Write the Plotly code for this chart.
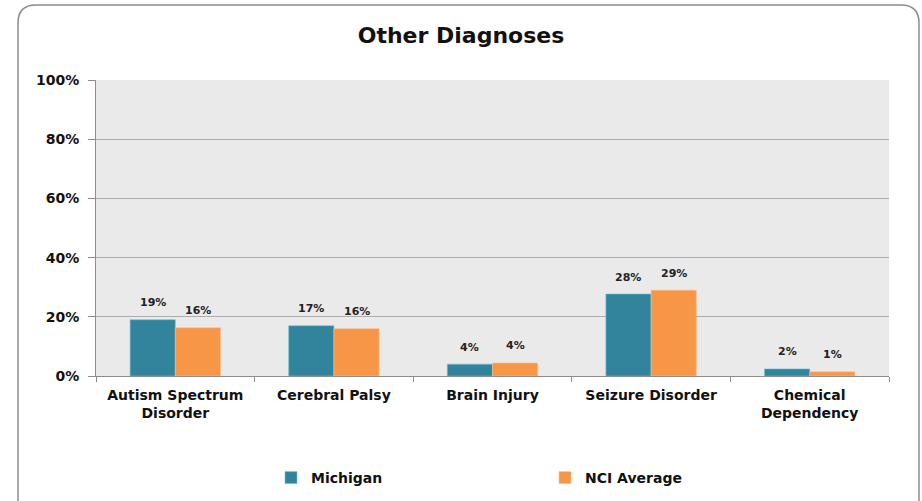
import plotly.graph_objects as go

categories = ["Autism Spectrum<br>Disorder", "Cerebral Palsy", "Brain Injury",
              "Seizure Disorder", "Chemical<br>Dependency"]
michigan = [0.19, 0.17, 0.04, 0.277, 0.024]
nci_average = [0.163, 0.16, 0.044, 0.29, 0.014]

W, H = 922, 501
ML, MR, MT, MB = 96, 33, 80, 125
PW, PH = W - ML - MR, H - MT - MB
BARGAP = 0.43

def px_to_paper(x, y):
    return (x - ML) / PW, (H - MB - y) / PH

# rounded frame around the whole chart
def frame_path(x0, y0, x1, y1, r):
    def p(x, y):
        a, b = px_to_paper(x, y)
        return f"{a:.5f},{b:.5f}"
    return (f"M {p(x0, y0 + r)} Q {p(x0, y0)} {p(x0 + r, y0)} "
            f"L {p(x1 - r, y0)} Q {p(x1, y0)} {p(x1, y0 + r)} "
            f"L {p(x1, y1 - r)} Q {p(x1, y1)} {p(x1 - r, y1)} "
            f"L {p(x0 + r, y1)} Q {p(x0, y1)} {p(x0, y1 - r)} Z")

font_fam = "'DejaVu Sans', Verdana, sans-serif"
label_font = dict(size=11, color="#222222", family=font_fam)

fig = go.Figure()
fig.add_trace(go.Bar(
    name="<b>Michigan</b>", x=categories, y=michigan,
    marker=dict(color="#31849B", line=dict(width=0.6, color="#6FC3D8")),
))
fig.add_trace(go.Bar(
    name="<b>NCI Average</b>", x=categories, y=nci_average,
    marker=dict(color="#F79646", line=dict(width=0.6, color="#FBC08F")),
))

# value labels above each bar
bar_off = PW / len(categories) * (1 - BARGAP) / 4
annotations = []
for series, shift in ((michigan, -bar_off), (nci_average, bar_off)):
    for cat, v in zip(categories, series):
        annotations.append(dict(
            x=cat, y=v, xref="x", yref="y", text=f"<b>{v:.0%}</b>",
            showarrow=False, xshift=shift, yshift=17, yanchor="middle",
            font=label_font,
        ))

fig.update_layout(
    width=W, height=H,
    margin=dict(l=ML, r=MR, t=MT, b=MB, autoexpand=False),
    paper_bgcolor="white",
    plot_bgcolor="#EAEAEA",
    barmode="group",
    bargap=BARGAP,
    bargroupgap=0,
    font=dict(family=font_fam, color="#111111"),
    title=dict(text="<b>Other Diagnoses</b>", x=0.5, xanchor="center",
               y=1 - 35 / H, yanchor="middle",
               font=dict(size=22, color="#111111", family=font_fam)),
    legend=dict(orientation="h", x=px_to_paper(271, 0)[0], xanchor="left",
                y=px_to_paper(0, 478)[1], yanchor="middle",
                entrywidth=229, entrywidthmode="pixels",
                bgcolor="rgba(0,0,0,0)",
                font=dict(size=14, color="#111111", family=font_fam),
                itemwidth=30, traceorder="normal"),
    annotations=annotations,
    shapes=[dict(type="path", xref="paper", yref="paper",
                 path=frame_path(18, 5, 919, 520, 18),
                 line=dict(color="#8C8C8C", width=1.5), fillcolor="rgba(0,0,0,0)",
                 layer="below")],
)

fig.update_yaxes(
    range=[0, 1], dtick=0.2, tickformat=".0%",
    showgrid=True, gridcolor="#ADADAD", gridwidth=1,
    showline=True, linecolor="#8C8C8C", linewidth=1,
    ticks="outside", ticklen=7, tickcolor="#8C8C8C",
    ticklabelstandoff=6,
    tickfont=dict(size=14, color="#111111", family=font_fam),
    tickprefix="<b>", ticksuffix="</b>",
    zeroline=False, fixedrange=True,
)
fig.update_xaxes(
    showline=True, linecolor="#8C8C8C", linewidth=1,
    ticks="outside", tickson="boundaries", ticklen=5, tickcolor="#8C8C8C",
    ticklabelstandoff=6,
    tickfont=dict(size=14, color="#111111", family=font_fam),
    tickprefix="<b>", ticksuffix="</b>",
    fixedrange=True,
)

# the page body has a default 8px margin; remove it so the figure fills the window
fig.write_html("out.html", config={"displayModeBar": False},
               post_script="document.body.style.margin='0';")
